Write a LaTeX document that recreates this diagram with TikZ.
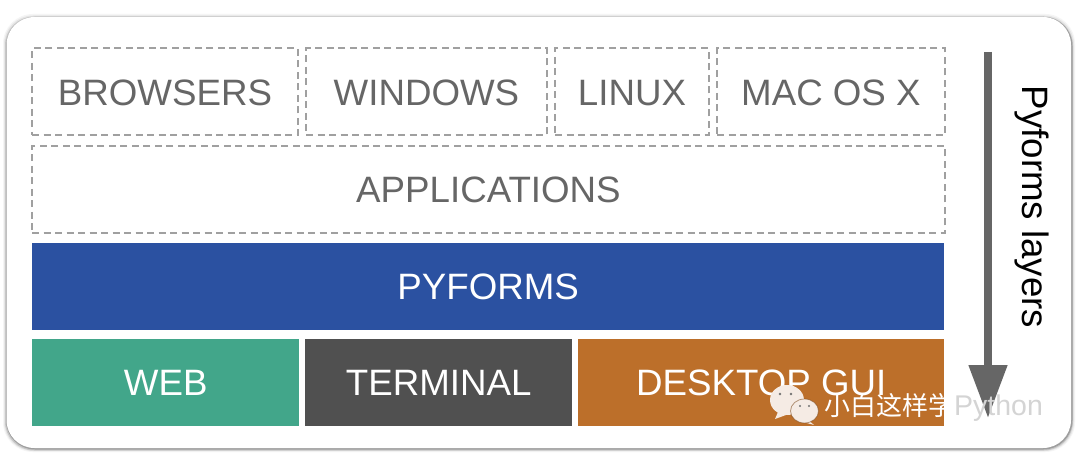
\documentclass[tikz,border=0pt]{standalone}
\usepackage{fontspec}
\setmainfont{Liberation Sans}
\newfontfamily\cjk{Noto Sans CJK SC}
\usetikzlibrary{arrows.meta,calc}
\definecolor{txtgray}{HTML}{666666}
\definecolor{dashgray}{HTML}{A0A0A0}
\definecolor{pyblue}{HTML}{2B51A1}
\definecolor{webgreen}{HTML}{42A68A}
\definecolor{termgray}{HTML}{505050}
\definecolor{deskorange}{HTML}{BC6F2A}
\definecolor{arrowgray}{HTML}{666666}
\definecolor{wechatcream}{HTML}{F5EBE4}
\definecolor{wmpale}{HTML}{D4D4D4}
\tikzset{
  x=1pt,y=-1pt,
  box/.style={anchor=north west,minimum width=#1,inner sep=0pt,minimum height=87pt,text height=26.5pt,text depth=0pt,font=\fontsize{36.7}{37}\selectfont},
  dashbox/.style={box=#1,draw=dashgray,line width=1.6pt,dash pattern=on 7pt off 4.5pt,text=txtgray},
  solidbox/.style={box=#1,text=white},
  wmtext/.style={inner sep=0pt,anchor=west,font=\fontsize{26}{26}\selectfont},
}
\begin{document}
\begin{tikzpicture}
\useasboundingbox (0,0) rectangle (1080,457);
\fill[white] (0,0) rectangle (1080,457);
% panel with soft shadow, heavier to the lower right
\fill[black!4,rounded corners=30pt] (3,14) rectangle (1075,452);
\fill[black!10,rounded corners=29pt] (4,15.5) rectangle (1074,451);
\fill[black!22,rounded corners=29pt] (5,16.5) rectangle (1073,450.5);
\fill[black!38,rounded corners=29pt] (6,17) rectangle (1072.5,449.5);
\fill[white,rounded corners=28pt] (6.5,17) rectangle (1071,448);
% top rows
\node[dashbox=265.5pt] (browsers) at (31.4,47.5) {BROWSERS};
\node[dashbox=240.5pt] (windows) at (305.4,47.5) {WINDOWS};
\node[dashbox=153.5pt] (linux) at (554.4,47.5) {LINUX};
\node[dashbox=227.5pt] (mac) at (716.4,47.5) {MAC OS X};
\node[dashbox=912.5pt] (apps) at (31.4,145) {APPLICATIONS};
% solid layers
\node[solidbox=912pt,fill=pyblue] (pyforms) at (32,243) {PYFORMS};
\node[solidbox=267pt,fill=webgreen] (web) at (32,339) {WEB};
\node[solidbox=267pt,fill=termgray] (terminal) at (305,339) {TERMINAL};
\node[solidbox=366pt,fill=deskorange] (desktop) at (578,339) {DESKTOP GUI};
% layers arrow
\coordinate (astart) at (988,52);
\coordinate (aend) at (988,418);
\draw[arrowgray,line width=8pt,-{Triangle[length=53pt,width=37pt]}] (astart) -- (aend);
\node[rotate=-90,inner sep=0pt,font=\fontsize{36.7}{37}\selectfont,text=black] (layers) at (1032,207) {Pyforms layers};
% watermark
\fill[wechatcream] (787,400) ellipse [x radius=17pt,y radius=15pt];
\fill[wechatcream] (778,412) -- (775,419) -- (786,415) -- cycle;
\fill[wechatcream] (804.5,411) ellipse [x radius=14pt,y radius=12pt];
\fill[wechatcream] (808,420) -- (814,425) -- (803,422) -- cycle;
\draw[black!35!deskorange,opacity=.55,line width=.8pt] (804.5,411) ellipse [x radius=14pt,y radius=12pt];
\fill[black!55] (780,394) circle (1.4pt) (791,394) circle (1.4pt) (800,406) circle (1.2pt) (809,406) circle (1.2pt);
\node[wmtext,text=white] (wm) at (824,407) {{\cjk 小白这样学}{\fontsize{28.5}{28.5}\selectfont\color{wmpale}Python}};
\end{tikzpicture}
\end{document}
